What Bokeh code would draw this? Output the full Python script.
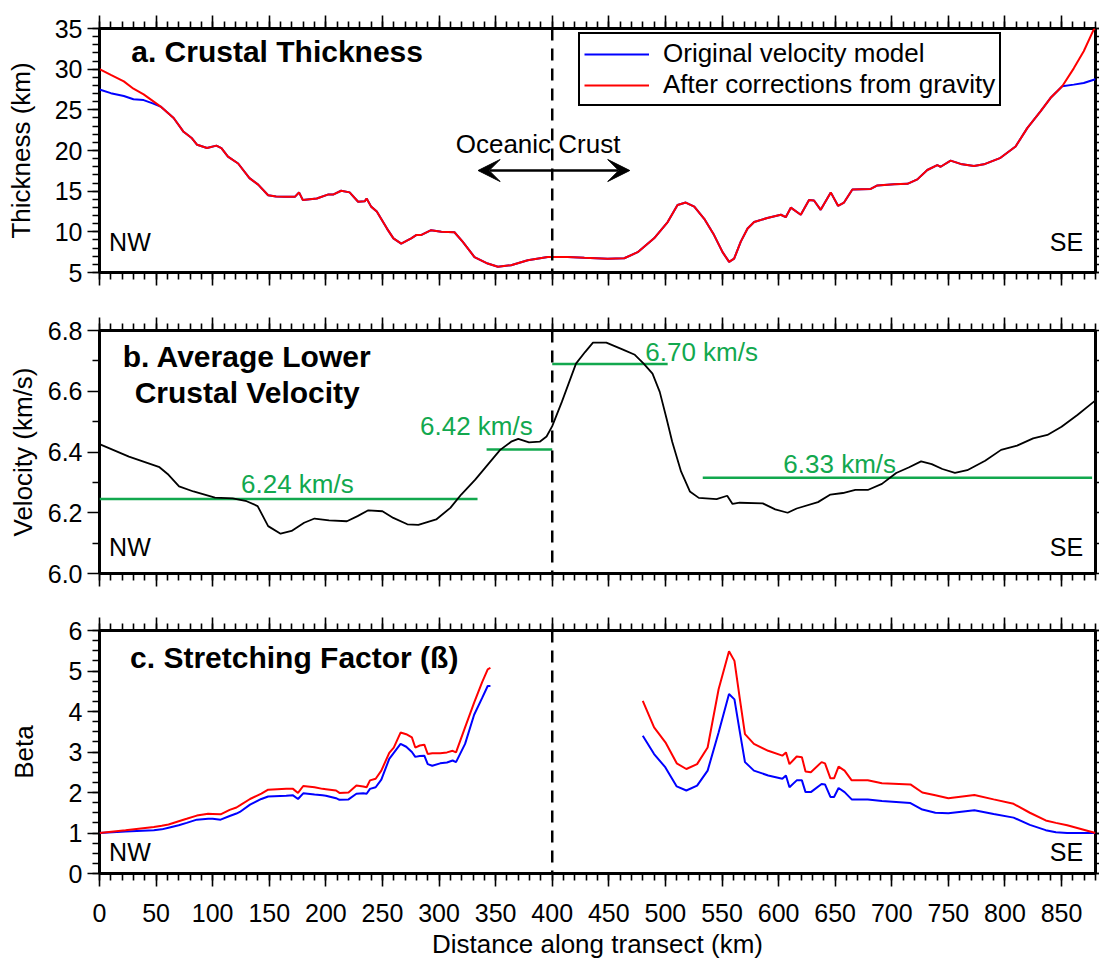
from bokeh.plotting import figure
from bokeh.layouts import column
from bokeh.models import (Range1d, LinearAxis, Span, Label, Legend, LegendItem,
                          Arrow, VeeHead, SingleIntervalTicker, FixedTicker,
                          PrintfTickFormatter, CustomLabelingPolicy)
from bokeh.embed import file_html
from bokeh.resources import INLINE

FONT = "Liberation Sans"
BLUE = "#0000ff"
RED = "#ff0000"
GREEN = "#12a84e"

# ---------------- Panel a: crustal thickness (km) ----------------
thick_x = [0, 10, 21.5, 30, 39, 47, 54, 65.5, 74.3, 81.7, 86.3, 95, 103.3, 107.7, 113.5, 122.5,
           132.5, 140.2, 149, 156, 163.6, 172.6, 176.3, 179.7, 192, 202.3, 206.8, 213.5, 221,
           228.5, 234.3, 236, 240, 245, 254, 259.7, 266.6, 275.4, 279.8, 284, 293, 302, 313.6,
           321, 331.3, 343, 352, 363.6, 378.4, 396, 413.6, 428.4, 449, 463.6, 475.5, 490, 502,
           510.7, 518, 525.5, 534.3, 543, 550.5, 556.3, 560.7, 566.6, 572.6, 578.4, 590, 602,
           606.3, 610.8, 619.6, 626.9, 631.3, 637.2, 646.1, 652.5, 657.8, 665.2, 681.4, 687.3,
           702, 713.8, 722.6, 731.4, 740.2, 743.2, 752, 760.8, 772.6, 781.4, 796.1, 809.4,
           819.7, 831.4, 840.2, 850.6, 860.8, 869.6, 878.5, 880]
thick_grav = [30.0, 29.3, 28.5, 27.6, 26.9, 26.1, 25.4, 24.0, 22.3, 21.5, 20.7, 20.3, 20.6, 20.3,
              19.25, 18.4, 16.6, 15.8, 14.5, 14.35, 14.3, 14.3, 14.85, 13.9, 14.1, 14.6, 14.6,
              15.05, 14.85, 13.7, 13.75, 14.1, 13.1, 12.5, 10.4, 9.2, 8.56, 9.2, 9.6, 9.6, 10.2,
              10.0, 9.95, 8.77, 6.9, 6.1, 5.7, 5.9, 6.5, 6.9, 6.9, 6.8, 6.7, 6.75, 7.5, 9.2, 11.2,
              13.3, 13.6, 13.1, 11.6, 9.6, 7.5, 6.3, 6.7, 8.8, 10.4, 11.2, 11.7, 12.1, 11.8,
              12.97, 12.1, 13.9, 13.85, 12.7, 14.85, 13.2, 13.6, 15.2, 15.27, 15.7, 15.85, 15.9,
              16.45, 17.6, 18.2, 18.0, 18.75, 18.35, 18.1, 18.3, 19.1, 20.5, 22.75, 24.8, 26.45,
              27.9, 30.1, 32.2, 34.9, 35.0]
# original velocity model differs from the gravity-corrected one only at the two ends
thick_orig_nw = [27.5, 27.05, 26.7, 26.3, 26.2, 25.8, 25.4]
thick_orig_se = [27.9, 28.1, 28.3, 28.7, 28.8]
thick_orig = thick_orig_nw + thick_grav[7:-5] + thick_orig_se

# ---------------- Panel b: average lower crustal velocity (km/s) ----------------
vel_x = [0, 26, 53, 61, 70.3, 83, 102, 117.7, 130, 139.7, 149, 160, 169.7, 180.8, 190, 202.8,
         218.6, 228, 237.5, 250, 259.6, 272, 281.7, 297.5, 310, 319.6, 332, 341.6, 354, 363.7,
         370, 379.5, 389, 395, 400, 408.5, 421, 429, 436, 447.8, 462, 473, 480.8, 488.6, 495,
         501, 506, 513.8, 521.6, 529.5, 545.2, 554.6, 559.3, 565.6, 586, 597, 608, 616, 634.8,
         645.8, 656.8, 667.8, 678.8, 691.3, 703.9, 714.9, 725.9, 735.3, 744.7, 755.8, 766.7,
         782.5, 796.6, 810.7, 824.9, 837.5, 850, 864, 880]
vel = [6.426, 6.385, 6.35, 6.325, 6.287, 6.27, 6.25, 6.247, 6.238, 6.222, 6.156, 6.131, 6.14,
       6.167, 6.181, 6.175, 6.172, 6.189, 6.208, 6.205, 6.183, 6.162, 6.16, 6.178, 6.216, 6.26,
       6.309, 6.352, 6.407, 6.434, 6.443, 6.432, 6.434, 6.451, 6.485, 6.565, 6.691, 6.729, 6.76,
       6.76, 6.738, 6.72, 6.691, 6.658, 6.598, 6.51, 6.434, 6.336, 6.27, 6.249, 6.245, 6.256,
       6.229, 6.233, 6.231, 6.211, 6.2, 6.214, 6.235, 6.26, 6.265, 6.275, 6.275, 6.295, 6.331,
       6.349, 6.369, 6.36, 6.344, 6.331, 6.34, 6.371, 6.407, 6.421, 6.445, 6.456, 6.483, 6.522,
       6.57]
vel_ticks = [6.0, 6.2, 6.4, 6.6, 6.8]
vel_minor_ticks = [6.1, 6.3, 6.5, 6.7]
avg_start = [0, 342, 400, 533]
avg_end = [334, 400, 502, 877]
avg_vel = [6.245, 6.408, 6.69, 6.315]
avg_labels = ["6.24 km/s", "6.42 km/s", "6.70 km/s", "6.33 km/s"]
avg_label_x = [174.8, 333, 532, 654]
avg_label_y = [6.296, 6.484, 6.73, 6.362]

# ---------------- Panel c: stretching factor (beta) ----------------
beta_nw_x = [0, 23, 48, 55, 61, 70, 77, 86, 96, 100, 107, 115, 121, 124, 133, 143, 149, 165, 171,
             175.4, 180, 190, 197, 200, 209, 212, 220, 227, 233, 236, 239, 244, 249, 256, 260, 266,
             271, 276, 279, 283, 287, 290, 294, 301, 307, 312, 315, 323, 331, 338, 343, 345.4]
beta_nw_grav = [1.0, 1.066, 1.15, 1.18, 1.21, 1.29, 1.35, 1.43, 1.475, 1.47, 1.46, 1.57, 1.63,
                1.68, 1.84, 1.97, 2.07, 2.09, 2.09, 1.99, 2.16, 2.13, 2.09, 2.08, 2.05, 1.99, 2.0,
                2.17, 2.15, 2.13, 2.3, 2.34, 2.54, 2.98, 3.11, 3.48, 3.44, 3.36, 3.11, 3.16, 3.18,
                2.95, 2.97, 2.97, 2.99, 3.03, 2.99, 3.61, 4.22, 4.72, 5.04, 5.08]
beta_nw_orig = [1.0, 1.04, 1.07, 1.09, 1.13, 1.19, 1.25, 1.33, 1.35, 1.35, 1.33, 1.42, 1.48,
                1.52, 1.70, 1.84, 1.90, 1.92, 1.93, 1.84, 1.98, 1.95, 1.93, 1.92, 1.86, 1.82, 1.83,
                1.97, 1.98, 1.97, 2.09, 2.13, 2.32, 2.83, 2.98, 3.2, 3.13, 3.0, 2.88, 2.9, 2.91,
                2.7, 2.66, 2.72, 2.74, 2.79, 2.75, 3.2, 3.92, 4.33, 4.63, 4.63]
beta_se_x = [480, 490, 500, 510, 518.5, 528, 537.3, 547, 556.2, 561, 565.6, 570.3, 578.2, 590.8,
             603.3, 606.5, 609.6, 616, 620.6, 623.8, 628.5, 638, 641, 645.8, 649, 653, 658.3,
             664.6, 678.8, 691.3, 716.5, 727, 738.5, 750, 773, 790, 807.6, 822, 836, 845, 855, 880]
beta_se_grav = [4.26, 3.61, 3.24, 2.72, 2.58, 2.70, 3.11, 4.55, 5.49, 5.25, 4.34, 3.44, 3.2, 3.03,
                2.91, 2.99, 2.70, 2.89, 2.87, 2.52, 2.5, 2.75, 2.72, 2.35, 2.35, 2.64, 2.54, 2.30,
                2.30, 2.23, 2.2, 2.0, 1.93, 1.86, 1.94, 1.83, 1.72, 1.5, 1.31, 1.25, 1.19, 1.0]
beta_se_orig = [3.40, 2.95, 2.62, 2.15, 2.05, 2.17, 2.54, 3.48, 4.43, 4.30, 3.52, 2.75, 2.54, 2.42,
                2.34, 2.42, 2.13, 2.30, 2.30, 2.01, 2.01, 2.21, 2.2, 1.89, 1.89, 2.11, 2.01, 1.83,
                1.83, 1.79, 1.74, 1.58, 1.5, 1.49, 1.56, 1.47, 1.38, 1.2, 1.07, 1.02, 1.0, 1.0]

OCEAN_BOUNDARY = 400
X_MAX = 880

NO_LABELS_JS = """
try {
  for (let i = 0; i < indices.size; i++) {
    if (typeof indices.unset === "function") { indices.unset(i) } else { indices.set(i, false) }
  }
} catch (e) {}
return indices
"""


def style_axis(ax, ticker, tick_major, tick_minor, labels=True, fmt=None):
    ax.ticker = ticker
    if fmt is not None:
        ax.formatter = fmt
    ax.axis_line_color = None
    ax.major_tick_line_color = "black"
    ax.minor_tick_line_color = "black"
    ax.major_tick_line_width = 1.6
    ax.minor_tick_line_width = 1.6
    ax.major_tick_in = 0
    ax.minor_tick_in = 0
    ax.major_tick_out = tick_major
    ax.minor_tick_out = tick_minor
    if labels:
        ax.major_label_text_font = FONT
        ax.major_label_text_font_size = "25px"
        ax.major_label_text_color = "black"
    else:
        ax.major_label_text_font_size = "0px"
        ax.major_label_standoff = 0
        ax.major_label_policy = CustomLabelingPolicy(code=NO_LABELS_JS)


def make_panel(height, ylo, yhi, yticker, ylabel, top, bottom, ystandoff,
               bottom_labels=False, yfmt=None):
    p = figure(width=1099, height=height, x_range=Range1d(0, X_MAX), y_range=Range1d(ylo, yhi),
               output_backend="svg", toolbar_location=None, tools="",
               min_border_left=99, min_border_right=4, min_border_top=top,
               min_border_bottom=bottom)
    p.xgrid.visible = False
    p.ygrid.visible = False
    p.outline_line_color = "black"
    p.outline_line_width = 3
    p.background_fill_color = "white"
    p.border_fill_color = "white"

    xt = SingleIntervalTicker(interval=50, num_minor_ticks=5)

    bx = p.xaxis[0]
    style_axis(bx, xt, 13, 7, labels=bottom_labels)
    if bottom_labels:
        bx.major_label_standoff = 17
        bx.axis_label = "Distance along transect (km)"
        bx.axis_label_text_font = FONT
        bx.axis_label_text_font_size = "26px"
        bx.axis_label_text_font_style = "normal"
        bx.axis_label_text_color = "black"
        bx.axis_label_standoff = 4

    ly = p.yaxis[0]
    style_axis(ly, yticker, 12, 7, labels=True, fmt=yfmt)
    ly.major_label_standoff = 5
    ly.axis_label = ylabel
    ly.axis_label_text_font = FONT
    ly.axis_label_text_font_size = "26px"
    ly.axis_label_text_font_style = "normal"
    ly.axis_label_text_color = "black"
    ly.axis_label_standoff = ystandoff

    ta = LinearAxis()
    style_axis(ta, xt, 13, 7, labels=False)
    p.add_layout(ta, "above")

    ra = LinearAxis()
    style_axis(ra, yticker, 4, 4, labels=False)
    p.add_layout(ra, "right")

    p.add_layout(Span(location=OCEAN_BOUNDARY, dimension="height", line_color="black",
                      line_width=2.5, line_dash="12 8"))
    return p


def add_text(p, x, y, text, size="25px", bold=False, align="left", color="black"):
    p.add_layout(Label(x=x, y=y, text=text, text_font=FONT, text_font_size=size,
                       text_font_style="bold" if bold else "normal", text_align=align,
                       text_baseline="middle", text_color=color))


# ---------------- Panel a ----------------
pa = make_panel(301, 5, 35, SingleIntervalTicker(interval=5, num_minor_ticks=5),
                "Thickness (km)", 28, 29, 16)
rb = pa.line(thick_x, thick_orig, line_color=BLUE, line_width=2)
rr = pa.line(thick_x, thick_grav, line_color=RED, line_width=2)
add_text(pa, 28, 32.17, "a. Crustal Thickness", size="30px", bold=True)
add_text(pa, 8.5, 8.8, "NW")
add_text(pa, 869, 8.8, "SE", align="right")
add_text(pa, 387.5, 20.86, "Oceanic Crust", size="26px", align="center")
pa.add_layout(Arrow(x_start=334.5, y_start=17.54, x_end=468.5, y_end=17.54,
                    line_color="black", line_width=2.5,
                    start=VeeHead(size=22, fill_color="black", line_color="black", line_width=1),
                    end=VeeHead(size=22, fill_color="black", line_color="black", line_width=1)))
legend = Legend(items=[LegendItem(label="Original velocity model", renderers=[rb]),
                       LegendItem(label="After corrections from gravity", renderers=[rr])],
                location=(479, 166), orientation="vertical")
legend.label_text_font = FONT
legend.label_text_font_size = "26px"
legend.label_text_color = "black"
legend.glyph_width = 65
legend.glyph_height = 22
legend.label_height = 22
legend.label_standoff = 14
legend.spacing = 0
legend.padding = 4
legend.margin = 0
legend.border_line_color = "black"
legend.border_line_alpha = 1
legend.border_line_width = 2
legend.background_fill_color = "white"
legend.background_fill_alpha = 1
pa.add_layout(legend)

# ---------------- Panel b ----------------
pb = make_panel(300, 6.0, 6.8, FixedTicker(ticks=vel_ticks, minor_ticks=vel_minor_ticks),
                "Velocity (km/s)", 29, 28, 7, yfmt=PrintfTickFormatter(format="%.1f"))
pb.segment(x0=avg_start, y0=avg_vel, x1=avg_end, y1=avg_vel, line_color=GREEN, line_width=2.5)
pb.line(vel_x, vel, line_color="black", line_width=1.8)
for lx, ly_, lt in zip(avg_label_x, avg_label_y, avg_labels):
    add_text(pb, lx, ly_, lt, size="26px", align="center", color=GREEN)
add_text(pb, 130.5, 6.714, "b. Average Lower", size="30px", bold=True, align="center")
add_text(pb, 130.5, 6.596, "Crustal Velocity", size="30px", bold=True, align="center")
add_text(pb, 8.5, 6.086, "NW")
add_text(pb, 869, 6.086, "SE", align="right")

# ---------------- Panel c ----------------
pc = make_panel(365, 0, 6, SingleIntervalTicker(interval=1, num_minor_ticks=4),
                "Beta", 29, 93, 27, bottom_labels=True)
pc.line(beta_nw_x, beta_nw_orig, line_color=BLUE, line_width=2)
pc.line(beta_se_x, beta_se_orig, line_color=BLUE, line_width=2)
pc.line(beta_nw_x, beta_nw_grav, line_color=RED, line_width=2)
pc.line(beta_se_x, beta_se_grav, line_color=RED, line_width=2)
add_text(pc, 27, 5.33, "c. Stretching Factor (ß)", size="30px", bold=True)
add_text(pc, 8.5, 0.52, "NW")
add_text(pc, 869, 0.52, "SE", align="right")

layout = column(pa, pb, pc, spacing=0)
open("out.html", "w").write(file_html(layout, INLINE))
